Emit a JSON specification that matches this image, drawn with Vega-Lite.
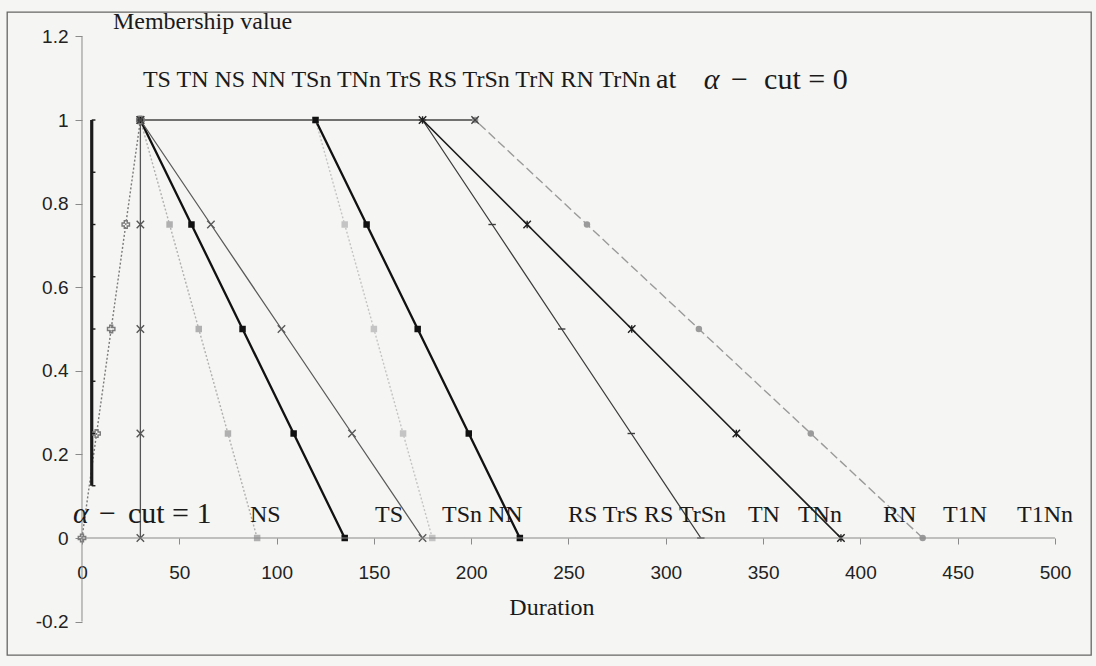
{
  "$schema": "https://vega.github.io/schema/vega-lite/v6.json",
  "width": 1084,
  "height": 643,
  "autosize": "none",
  "padding": {"left": 7, "top": 12, "right": 5, "bottom": 11},
  "background": "#f5f5f3",
  "config": {
    "view": {"stroke": "#666666", "strokeWidth": 1.3},
    "axis": {"grid": false, "domain": false, "labelFont": "Liberation Sans", "labelFontSize": 19, "labelColor": "#222222", "tickColor": "#8a8a8a", "labelOverlap": false, "labelBound": false, "labelFlush": false, "title": null}
  },
  "data": {
    "values": [
      {"s": "rise", "x": 0, "y": 0}, {"s": "rise", "x": 7.5, "y": 0.25}, {"s": "rise", "x": 15, "y": 0.5}, {"s": "rise", "x": 22.5, "y": 0.75}, {"s": "rise", "x": 30, "y": 1},
      {"s": "v30", "x": 30, "y": 0}, {"s": "v30", "x": 30, "y": 0.25}, {"s": "v30", "x": 30, "y": 0.5}, {"s": "v30", "x": 30, "y": 0.75}, {"s": "v30", "x": 30, "y": 1},
      {"s": "NS", "x": 30, "y": 1}, {"s": "NS", "x": 45, "y": 0.75}, {"s": "NS", "x": 60, "y": 0.5}, {"s": "NS", "x": 75, "y": 0.25}, {"s": "NS", "x": 90, "y": 0},
      {"s": "NN", "x": 30, "y": 1}, {"s": "NN", "x": 56.25, "y": 0.75}, {"s": "NN", "x": 82.5, "y": 0.5}, {"s": "NN", "x": 108.75, "y": 0.25}, {"s": "NN", "x": 135, "y": 0},
      {"s": "TS", "x": 30, "y": 1}, {"s": "TS", "x": 66.25, "y": 0.75}, {"s": "TS", "x": 102.5, "y": 0.5}, {"s": "TS", "x": 138.75, "y": 0.25}, {"s": "TS", "x": 175, "y": 0},
      {"s": "TSn", "x": 120, "y": 1}, {"s": "TSn", "x": 135, "y": 0.75}, {"s": "TSn", "x": 150, "y": 0.5}, {"s": "TSn", "x": 165, "y": 0.25}, {"s": "TSn", "x": 180, "y": 0},
      {"s": "NN2", "x": 120, "y": 1}, {"s": "NN2", "x": 146.25, "y": 0.75}, {"s": "NN2", "x": 172.5, "y": 0.5}, {"s": "NN2", "x": 198.75, "y": 0.25}, {"s": "NN2", "x": 225, "y": 0},
      {"s": "TrSn", "x": 175, "y": 1}, {"s": "TrSn", "x": 210.75, "y": 0.75}, {"s": "TrSn", "x": 246.5, "y": 0.5}, {"s": "TrSn", "x": 282.25, "y": 0.25}, {"s": "TrSn", "x": 318, "y": 0},
      {"s": "TNn", "x": 175, "y": 1}, {"s": "TNn", "x": 228.75, "y": 0.75}, {"s": "TNn", "x": 282.5, "y": 0.5}, {"s": "TNn", "x": 336.25, "y": 0.25}, {"s": "TNn", "x": 390, "y": 0},
      {"s": "RN", "x": 202, "y": 1}, {"s": "RN", "x": 259.5, "y": 0.75}, {"s": "RN", "x": 317, "y": 0.5}, {"s": "RN", "x": 374.5, "y": 0.25}, {"s": "RN", "x": 432, "y": 0},
      {"s": "top", "x": 30, "y": 1}, {"s": "top", "x": 202, "y": 1},
      {"s": "bar", "x": 5, "y": 1}, {"s": "bar", "x": 5, "y": 0.875}, {"s": "bar", "x": 5, "y": 0.75}, {"s": "bar", "x": 5, "y": 0.625}, {"s": "bar", "x": 5, "y": 0.5}, {"s": "bar", "x": 5, "y": 0.375}, {"s": "bar", "x": 5, "y": 0.25}, {"s": "bar", "x": 5, "y": 0.125}
    ]
  },
  "layer": [
    {
      "encoding": {
        "x": {
          "field": "x", "type": "quantitative",
          "scale": {"domain": [-38.54, 518.5], "nice": false, "zero": false},
          "axis": {"values": [0, 50, 100, 150, 200, 250, 300, 350, 400, 450, 500], "offset": -117, "tickSize": 6, "labelPadding": 19}
        },
        "y": {
          "field": "y", "type": "quantitative",
          "scale": {"domain": [-0.2799, 1.2584], "nice": false, "zero": false},
          "axis": {"values": [-0.2, 0, 0.2, 0.4, 0.6, 0.8, 1, 1.2], "offset": -75, "tickSize": 7, "labelPadding": 7, "labelExpr": "'' + datum.value"}
        },
        "color": {
          "field": "s", "type": "nominal", "legend": null,
          "scale": {
            "domain": ["rise", "v30", "NS", "NN", "TS", "TSn", "NN2", "TrSn", "TNn", "RN", "top", "bar"],
            "range": ["#7a7a7a", "#555555", "#b0b0b0", "#111111", "#5a5a5a", "#c4c4c4", "#111111", "#3c3c3c", "#1e1e1e", "#9a9a9a", "#444444", "#1a1a1a"]
          }
        },
        "detail": {"field": "s"}
      },
      "layer": [
        {
          "transform": [{"filter": {"field": "s", "oneOf": ["rise", "NS", "TSn"]}}],
          "mark": {"type": "line", "strokeWidth": 1.4, "strokeDash": [2, 2]},
          "encoding": {"order": {"field": "y"}}
        },
        {
          "transform": [{"filter": {"field": "s", "oneOf": ["NN", "NN2"]}}],
          "mark": {"type": "line", "strokeWidth": 2.3},
          "encoding": {"order": {"field": "y"}}
        },
        {
          "transform": [{"filter": {"field": "s", "oneOf": ["v30", "TS", "TrSn", "top"]}}],
          "mark": {"type": "line", "strokeWidth": 1.3},
          "encoding": {"order": {"field": "y"}}
        },
        {
          "transform": [{"filter": {"field": "s", "equal": "TNn"}}],
          "mark": {"type": "line", "strokeWidth": 1.7},
          "encoding": {"order": {"field": "y"}}
        },
        {
          "transform": [{"filter": {"field": "s", "equal": "RN"}}],
          "mark": {"type": "line", "strokeWidth": 1.4, "strokeDash": [9, 4]},
          "encoding": {"order": {"field": "y"}}
        },
        {
          "transform": [{"filter": {"field": "s", "equal": "bar"}}],
          "mark": {"type": "line", "strokeWidth": 3.2, "strokeCap": "butt"},
          "encoding": {"order": {"field": "y"}}
        },
        {
          "transform": [{"filter": {"field": "s", "oneOf": ["NS", "NN", "TSn", "NN2", "RN"]}}],
          "mark": {"type": "point", "filled": true, "opacity": 1, "size": 42},
          "encoding": {
            "shape": {
              "field": "s", "type": "nominal", "legend": null,
              "scale": {
                "domain": ["rise", "v30", "NS", "NN", "TS", "TSn", "NN2", "TrSn", "TNn", "RN", "top", "bar"],
                "range": ["cross", "M-1,-1L1,1M-1,1L1,-1", "square", "square", "M-1,-1L1,1M-1,1L1,-1", "square", "square", "M-1,0L1,0", "M-1,-1L1,1M-1,1L1,-1M0,-1L0,1", "circle", "M-1,-1L1,1M-1,1L1,-1", "M0,0L1,0"]
              }
            }
          }
        },
        {
          "transform": [{"filter": {"field": "s", "oneOf": ["rise", "v30", "TS", "TrSn", "TNn", "top", "bar"]}}],
          "mark": {"type": "point", "filled": false, "opacity": 1, "size": 55, "strokeWidth": 1.4},
          "encoding": {"shape": {"field": "s", "type": "nominal", "legend": null}}
        }
      ]
    },
    {
      "transform": [{"aggregate": [{"op": "min", "field": "x", "as": "x"}, {"op": "min", "field": "y", "as": "y"}]}],
      "layer": [
        {
          "mark": {"type": "rule", "color": "#8a8a8a", "strokeWidth": 1},
          "encoding": {"x": {"datum": 0, "type": "quantitative"}, "y": {"datum": -0.2, "type": "quantitative"}, "y2": {"datum": 1.2}}
        },
        {
          "mark": {"type": "rule", "color": "#8a8a8a", "strokeWidth": 1.2},
          "encoding": {"y": {"datum": 0, "type": "quantitative"}, "x": {"datum": 0, "type": "quantitative"}, "x2": {"datum": 500}}
        },
        {"mark": {"type": "text", "text": "α", "font": "Liberation Serif", "fontSize": 30, "fontStyle": "italic", "align": "left", "color": "#1a1a1a"}, "encoding": {"x": {"datum": -4.6, "type": "quantitative"}, "y": {"datum": 0.057, "type": "quantitative"}}},
        {"mark": {"type": "text", "text": "−", "font": "Liberation Serif", "fontSize": 30, "align": "left", "color": "#1a1a1a"}, "encoding": {"x": {"datum": 8.7, "type": "quantitative"}, "y": {"datum": 0.057, "type": "quantitative"}}},
        {"mark": {"type": "text", "text": "cut = 1", "font": "Liberation Serif", "fontSize": 30, "align": "left", "color": "#1a1a1a"}, "encoding": {"x": {"datum": 23.6, "type": "quantitative"}, "y": {"datum": 0.057, "type": "quantitative"}}},
        {"mark": {"type": "text", "text": "NS", "font": "Liberation Serif", "fontSize": 24, "align": "left", "color": "#1a1a1a"}, "encoding": {"x": {"datum": 86.3, "type": "quantitative"}, "y": {"datum": 0.055, "type": "quantitative"}}},
        {"mark": {"type": "text", "text": "TS", "font": "Liberation Serif", "fontSize": 24, "align": "left", "color": "#1a1a1a"}, "encoding": {"x": {"datum": 150.6, "type": "quantitative"}, "y": {"datum": 0.055, "type": "quantitative"}}},
        {"mark": {"type": "text", "text": "TSn NN", "font": "Liberation Serif", "fontSize": 24, "align": "left", "color": "#1a1a1a"}, "encoding": {"x": {"datum": 185, "type": "quantitative"}, "y": {"datum": 0.055, "type": "quantitative"}}},
        {"mark": {"type": "text", "text": "RS TrS RS TrSn", "font": "Liberation Serif", "fontSize": 24, "align": "left", "color": "#1a1a1a"}, "encoding": {"x": {"datum": 249.7, "type": "quantitative"}, "y": {"datum": 0.055, "type": "quantitative"}}},
        {"mark": {"type": "text", "text": "TN", "font": "Liberation Serif", "fontSize": 24, "align": "left", "color": "#1a1a1a"}, "encoding": {"x": {"datum": 342.2, "type": "quantitative"}, "y": {"datum": 0.055, "type": "quantitative"}}},
        {"mark": {"type": "text", "text": "TNn", "font": "Liberation Serif", "fontSize": 24, "align": "left", "color": "#1a1a1a"}, "encoding": {"x": {"datum": 367.9, "type": "quantitative"}, "y": {"datum": 0.055, "type": "quantitative"}}},
        {"mark": {"type": "text", "text": "RN", "font": "Liberation Serif", "fontSize": 24, "align": "left", "color": "#1a1a1a"}, "encoding": {"x": {"datum": 411.6, "type": "quantitative"}, "y": {"datum": 0.055, "type": "quantitative"}}},
        {"mark": {"type": "text", "text": "T1N", "font": "Liberation Serif", "fontSize": 24, "align": "left", "color": "#1a1a1a"}, "encoding": {"x": {"datum": 442.5, "type": "quantitative"}, "y": {"datum": 0.055, "type": "quantitative"}}},
        {"mark": {"type": "text", "text": "T1Nn", "font": "Liberation Serif", "fontSize": 24, "align": "left", "color": "#1a1a1a"}, "encoding": {"x": {"datum": 480.5, "type": "quantitative"}, "y": {"datum": 0.055, "type": "quantitative"}}},
        {"mark": {"type": "text", "text": "TS TN NS NN TSn TNn TrS RS TrSn TrN RN TrNn", "font": "Liberation Serif", "fontSize": 24, "align": "left", "color": "#1a1a1a"}, "encoding": {"x": {"datum": 31.3, "type": "quantitative"}, "y": {"datum": 1.096, "type": "quantitative"}}},
        {"mark": {"type": "text", "text": "at", "font": "Liberation Serif", "fontSize": 28, "align": "left", "color": "#1a1a1a"}, "encoding": {"x": {"datum": 295, "type": "quantitative"}, "y": {"datum": 1.096, "type": "quantitative"}}},
        {"mark": {"type": "text", "text": "α", "font": "Liberation Serif", "fontSize": 30, "fontStyle": "italic", "align": "left", "color": "#1a1a1a"}, "encoding": {"x": {"datum": 319.5, "type": "quantitative"}, "y": {"datum": 1.096, "type": "quantitative"}}},
        {"mark": {"type": "text", "text": "−", "font": "Liberation Serif", "fontSize": 30, "align": "left", "color": "#1a1a1a"}, "encoding": {"x": {"datum": 333.5, "type": "quantitative"}, "y": {"datum": 1.096, "type": "quantitative"}}},
        {"mark": {"type": "text", "text": "cut = 0", "font": "Liberation Serif", "fontSize": 30, "align": "left", "color": "#1a1a1a"}, "encoding": {"x": {"datum": 350.5, "type": "quantitative"}, "y": {"datum": 1.096, "type": "quantitative"}}},
        {"mark": {"type": "text", "text": "Membership value", "font": "Liberation Serif", "fontSize": 24, "align": "left", "color": "#1a1a1a"}, "encoding": {"x": {"datum": 15.9, "type": "quantitative"}, "y": {"datum": 1.234, "type": "quantitative"}}},
        {"mark": {"type": "text", "text": "Duration", "font": "Liberation Serif", "fontSize": 24, "align": "center", "baseline": "middle", "color": "#1a1a1a"}, "encoding": {"x": {"datum": 241.5, "type": "quantitative"}, "y": {"datum": -0.168, "type": "quantitative"}}}
      ]
    }
  ]
}
